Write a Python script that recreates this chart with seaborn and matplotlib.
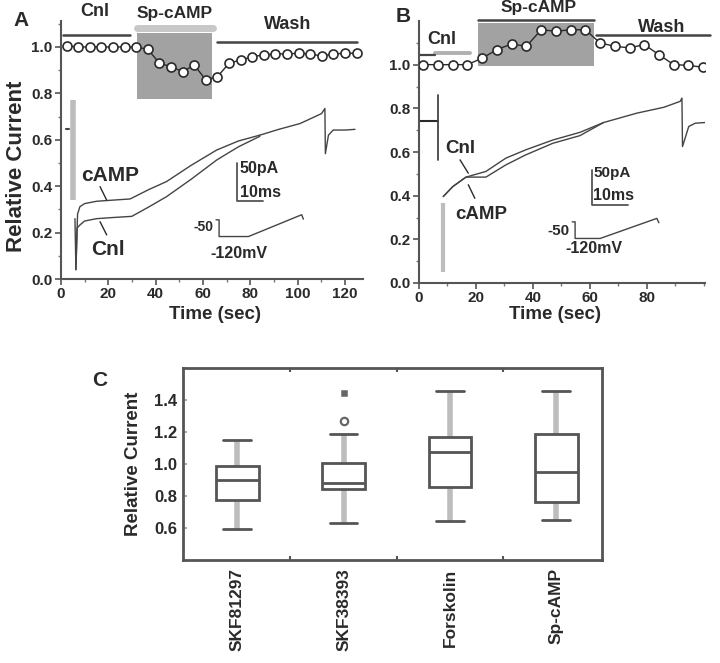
#!/usr/bin/env python3

"""Sp-cAMP effect on relative current: time courses (A, B) and summary boxes (C)."""

import matplotlib.pyplot as plt
import numpy as np
import pandas as pd
import seaborn as sns

sns.set_theme(style="ticks", context="paper")
plt.rcParams["font.family"] = ["Liberation Sans", "DejaVu Sans"]
plt.rcParams["font.weight"] = "bold"
plt.rcParams["axes.labelweight"] = "bold"

INK = "#2a2a2a"
LINE = "#444444"
LIGHT = "#bdbdbd"
SHADE = "#a2a2a2"

# ---- panel A: relative current time course ----
a_time = [2.4, 7.3, 12.2, 17.1, 22.0, 26.9, 31.8, 36.7, 41.6, 46.5, 51.4, 56.3, 61.2,
          66.1, 71.0, 75.9, 80.8, 85.7, 90.6, 95.5, 100.4, 105.3, 110.2, 115.1, 120.0, 124.9]
a_rel = [1.005, 1.0, 1.0, 1.0, 1.0, 1.0, 1.0, 0.99, 0.93, 0.915, 0.894, 0.922, 0.858,
         0.872, 0.93, 0.944, 0.958, 0.966, 0.97, 0.97, 0.973, 0.97, 0.961, 0.97, 0.973, 0.973]

# inset current traces of panel A (drawn in the same axes)
a_cnl_t = [5.9, 6.3, 6.8, 8.0, 10.0, 15.0, 22.0, 29.9, 37.0, 44.6, 55.0, 65.8, 75.0, 84.0]
a_cnl_v = [0.26, 0.04, 0.22, 0.233, 0.25, 0.26, 0.265, 0.27, 0.31, 0.355, 0.43, 0.513, 0.57, 0.615]
a_camp_t = [6.3, 7.0, 8.0, 10.0, 15.0, 22.0, 29.2, 37.0, 44.6, 55.0, 65.8, 75.0, 84.0]
a_camp_v = [0.04, 0.28, 0.312, 0.325, 0.335, 0.34, 0.345, 0.385, 0.42, 0.49, 0.556, 0.595, 0.62]
a_tail_t = [84.0, 92.0, 101.0, 110.1, 111.5, 111.7, 113.0, 115.0, 120.0, 124.2]
a_tail_v = [0.62, 0.645, 0.67, 0.713, 0.735, 0.54, 0.62, 0.642, 0.642, 0.645]
a_volt_t = [65.5, 66.8, 66.8, 79.2, 101.7, 102.4]
a_volt_v = [0.255, 0.255, 0.183, 0.183, 0.277, 0.258]
a_scale_t = [74.2, 74.2, 85.5]
a_scale_v = [0.502, 0.335, 0.335]

# ---- panel B ----
b_time = [1.5, 6.7, 11.8, 17.0, 22.2, 27.4, 32.5, 37.7, 42.9, 48.0,
          53.2, 58.4, 63.5, 68.7, 73.9, 79.1, 84.2, 89.4, 94.6, 99.7]
b_rel = [1.0, 1.0, 1.0, 1.0, 1.03, 1.069, 1.095, 1.084, 1.16, 1.153,
         1.16, 1.16, 1.10, 1.084, 1.077, 1.092, 1.046, 1.0, 0.997, 0.988]

b_cnl_t = [8.5, 11.9, 16.5, 23.5, 30.5, 37.5, 47.0, 56.5, 64.8, 76.5, 86.0, 91.7,
           92.3, 92.5, 94.7, 97.0, 100.5]
b_cnl_v = [0.396, 0.442, 0.485, 0.511, 0.572, 0.61, 0.655, 0.69, 0.735, 0.778, 0.805, 0.832,
           0.847, 0.625, 0.717, 0.732, 0.735]
b_camp_t = [8.5, 11.9, 16.5, 23.5, 30.5, 37.5, 47.0, 56.5, 64.8]
b_camp_v = [0.396, 0.442, 0.485, 0.485, 0.541, 0.587, 0.64, 0.675, 0.735]
b_volt_t = [53.8, 54.8, 54.8, 63.6, 83.5, 84.2]
b_volt_v = [0.28, 0.28, 0.204, 0.204, 0.296, 0.276]
b_scale_t = [60.6, 60.6, 73.5]
b_scale_v = [0.518, 0.357, 0.357]

# ---- panel C: box summaries ----
box_labels = ["SKF81297", "SKF38393", "Forskolin", "Sp-cAMP"]
box_low = [0.595, 0.63, 0.645, 0.652]
box_q1 = [0.772, 0.843, 0.859, 0.76]
box_med = [0.90, 0.88, 1.078, 0.953]
box_q3 = [0.99, 1.005, 1.171, 1.188]
box_high = [1.15, 1.186, 1.456, 1.456]
outlier_group = ["SKF38393", "SKF38393"]
outlier_value = [1.271, 1.446]


def px(x, y):
    """Pixel position -> figure fraction."""
    return x / 720, 1 - y / 663


def trace(ax, t, v, color=LINE, lw=1.0):
    sns.lineplot(x=t, y=v, ax=ax, sort=False, estimator=None, color=color,
                 linewidth=lw, legend=False)


def style_time_axis(ax):
    sns.despine(ax=ax)
    for side in ("left", "bottom"):
        ax.spines[side].set_linewidth(1.5)
        ax.spines[side].set_color("#555555")
    ax.tick_params(which="major", direction="out", length=4, width=1.2, color="#555555",
                   labelsize=11, labelcolor=INK, pad=2)
    ax.tick_params(which="minor", direction="out", length=2.5, width=1, color="#777777")
    ax.set_xlabel("Time (sec)", fontsize=13.5, color=INK)
    ax.set_ylabel("")


def time_course(ax, t, v):
    sns.lineplot(x=t, y=v, ax=ax, estimator=None, color=INK, linewidth=1.0,
                 marker="o", markersize=6.5, markerfacecolor="white",
                 markeredgecolor=INK, markeredgewidth=1.2, zorder=5)


def main():
    fig = plt.figure(figsize=(7.2, 6.63), dpi=100)

    # ---------------- A ----------------
    ax = fig.add_axes([61 / 720, 1 - 279 / 663, 302 / 720, 258 / 663])
    ax.fill_between([32.1, 63.8], 0.776, 1.06, color=SHADE, lw=0, zorder=1)
    ax.plot([32.3, 64.2], [1.08, 1.08], color="#c8c8c8", lw=5, clip_on=False)
    ax.plot([0.8, 29.0], [1.05, 1.05], color=LINE, lw=1.8, clip_on=False)
    ax.plot([66.0, 125.0], [1.023, 1.023], color=LINE, lw=1.8, clip_on=False)
    time_course(ax, a_time, a_rel)

    ax.plot([5.0, 5.0], [0.34, 0.77], color=LIGHT, lw=4, solid_capstyle="butt")
    ax.plot([2.0, 3.2], [0.645, 0.645], color=LINE, lw=1.5)
    trace(ax, a_cnl_t, a_cnl_v)
    trace(ax, a_camp_t, a_camp_v)
    trace(ax, a_tail_t, a_tail_v)
    trace(ax, a_volt_t, a_volt_v)
    trace(ax, a_scale_t, a_scale_v, color="#555555", lw=1.3)
    ax.plot([16.5, 19.3], [0.398, 0.34], color=INK, lw=1)
    ax.plot([16.5, 19.3], [0.247, 0.19], color=INK, lw=1)

    txt = dict(color=INK, ha="center", va="center", clip_on=False)
    ax.text(14.4, 1.155, "Cnl", fontsize=13, **txt)
    ax.text(48.2, 1.145, "Sp-cAMP", fontsize=12.5, **txt)
    ax.text(95.6, 1.095, "Wash", fontsize=13, **txt)
    ax.text(20.7, 0.448, "cAMP", fontsize=15, **txt)
    ax.text(20.0, 0.128, "Cnl", fontsize=15, **txt)
    ax.text(75.6, 0.477, "50pA", fontsize=11.5, color=INK, ha="left", va="center")
    ax.text(75.6, 0.372, "10ms", fontsize=11.5, color=INK, ha="left", va="center")
    ax.text(64.4, 0.223, "-50", fontsize=10, color=INK, ha="right", va="center")
    ax.text(75.2, 0.112, "-120mV", fontsize=11.5, **txt)

    ax.set_xlim(0, 127.6)
    ax.set_ylim(0, 1.112)
    ax.set_xticks([0, 20, 40, 60, 80, 100, 120])
    ax.set_xticks(np.arange(10, 127, 20), minor=True)
    ax.set_yticks([0.0, 0.2, 0.4, 0.6, 0.8, 1.0])
    ax.set_yticks([0.1, 0.3, 0.5, 0.7, 0.9, 1.1], minor=True)
    ax.yaxis.set_major_formatter("{x:.1f}")
    style_time_axis(ax)
    ax.set_ylabel("Relative Current", fontsize=16, color=INK)
    ax.yaxis.set_label_coords(-0.113, 0.438)
    ax.xaxis.set_label_coords(0.51, -0.105)

    # ---------------- B ----------------
    bx = fig.add_axes([419 / 720, 1 - 283 / 663, 286 / 720, 262 / 663])
    bx.fill_between([20.8, 61.6], 0.992, 1.19, color=SHADE, lw=0, zorder=1)
    bx.plot([20.8, 61.6], [1.204, 1.204], color=LINE, lw=1.8, clip_on=False)
    bx.plot([5.5, 17.9], [1.054, 1.054], color="#b0b0b0", lw=2.8, clip_on=False)
    bx.plot([0.2, 5.5], [1.046, 1.046], color=LINE, lw=1.6, clip_on=False)
    bx.plot([62.0, 102.3], [1.138, 1.138], color=LINE, lw=1.8, clip_on=False)
    time_course(bx, b_time, b_rel)

    bx.plot([0.3, 6.7], [0.74, 0.74], color=INK, lw=1.5)
    bx.plot([6.7, 6.7], [0.564, 0.862], color=LINE, lw=1.3)
    bx.plot([8.3, 8.3], [0.052, 0.367], color=LIGHT, lw=3, solid_capstyle="butt")
    trace(bx, b_cnl_t, b_cnl_v)
    trace(bx, b_camp_t, b_camp_v)
    trace(bx, b_volt_t, b_volt_v)
    trace(bx, b_scale_t, b_scale_v, color="#555555", lw=1.3)
    bx.plot([14.4, 17.3], [0.564, 0.503], color=INK, lw=1)
    bx.plot([17.3, 19.6], [0.45, 0.388], color=INK, lw=1)

    bx.text(8.0, 1.115, "Cnl", fontsize=13, **txt)
    bx.text(41.9, 1.26, "Sp-cAMP", fontsize=12.5, **txt)
    bx.text(85.2, 1.168, "Wash", fontsize=13, **txt)
    bx.text(14.4, 0.618, "Cnl", fontsize=13.5, **txt)
    bx.text(22.0, 0.312, "cAMP", fontsize=13.5, **txt)
    bx.text(61.2, 0.502, "50pA", fontsize=11, color=INK, ha="left", va="center")
    bx.text(61.0, 0.399, "10ms", fontsize=11.5, color=INK, ha="left", va="center")
    bx.text(53.0, 0.238, "-50", fontsize=11, color=INK, ha="right", va="center")
    bx.text(61.5, 0.158, "-120mV", fontsize=11.5, **txt)

    bx.set_xlim(0, 100.4)
    bx.set_ylim(0, 1.2)
    bx.set_xticks([0, 20, 40, 60, 80])
    bx.set_xticks([10, 30, 50, 70, 90, 100], minor=True)
    bx.set_yticks([0.0, 0.2, 0.4, 0.6, 0.8, 1.0])
    bx.set_yticks([0.1, 0.3, 0.5, 0.7, 0.9, 1.1], minor=True)
    bx.yaxis.set_major_formatter("{x:.1f}")
    style_time_axis(bx)
    bx.xaxis.set_label_coords(0.476, -0.088)

    # ---------------- C ----------------
    cx = fig.add_axes([183 / 720, 1 - 560 / 663, 419 / 720, 192 / 663])
    stats = np.column_stack([box_low, box_q1, box_med, box_q3, box_high])
    df = pd.DataFrame({"group": np.repeat(box_labels, stats.shape[1]),
                       "value": stats.ravel()})
    edge = "#555555"
    sns.boxplot(data=df, x="group", y="value", order=box_labels, ax=cx,
                whis=(0, 100), width=0.4, fliersize=0, linewidth=2, linecolor=edge,
                capwidths=0.26,
                boxprops=dict(facecolor="white", edgecolor=edge, linewidth=2, zorder=3),
                whiskerprops=dict(color=LIGHT, linewidth=4, zorder=2),
                capprops=dict(color=edge, linewidth=2),
                medianprops=dict(color=edge, linewidth=2, zorder=4))
    pos = [box_labels.index(g) for g in outlier_group]
    sns.scatterplot(x=pos[:1], y=outlier_value[:1], ax=cx, marker="o", s=28,
                    facecolor="white", edgecolor="#666666", linewidth=1.6, zorder=5)
    sns.scatterplot(x=pos[1:], y=outlier_value[1:], ax=cx, marker="s", s=22,
                    color="#666666", edgecolor="#666666", zorder=5)

    cx.set_xlim(-0.51, 3.43)
    cx.set_ylim(0.4, 1.6)
    cx.set_yticks([0.6, 0.8, 1.0, 1.2, 1.4])
    cx.yaxis.set_major_formatter("{x:.1f}")
    cx.set_xticks(range(len(box_labels)))
    cx.set_xticklabels(box_labels, rotation=90, fontsize=12.5, color=INK)
    cx.set_xticks([0.5, 1.5, 2.5], minor=True)
    for side in cx.spines.values():
        side.set_linewidth(2)
        side.set_color(edge)
    cx.tick_params(axis="x", which="major", length=0, pad=6)
    cx.tick_params(axis="x", which="minor", direction="in", length=3, width=1.5,
                   color=edge, top=True, bottom=True)
    cx.tick_params(axis="y", which="major", direction="in", length=3, width=1.2,
                   color="#999999", labelsize=12, labelcolor=INK, pad=4)
    cx.set_xlabel("")
    cx.set_ylabel("Relative Current", fontsize=13.5, color=INK)
    cx.yaxis.set_label_coords(-0.099, 0.5)

    # panel letters
    for letter, (x, y) in zip("ABC", [(21, 20), (403, 17), (100, 381)]):
        fig.text(*px(x, y), letter, fontsize=15, color=INK, ha="center", va="center")

    fig.savefig("out.png", dpi=100)
    plt.close(fig)


if __name__ == "__main__":
    main()
